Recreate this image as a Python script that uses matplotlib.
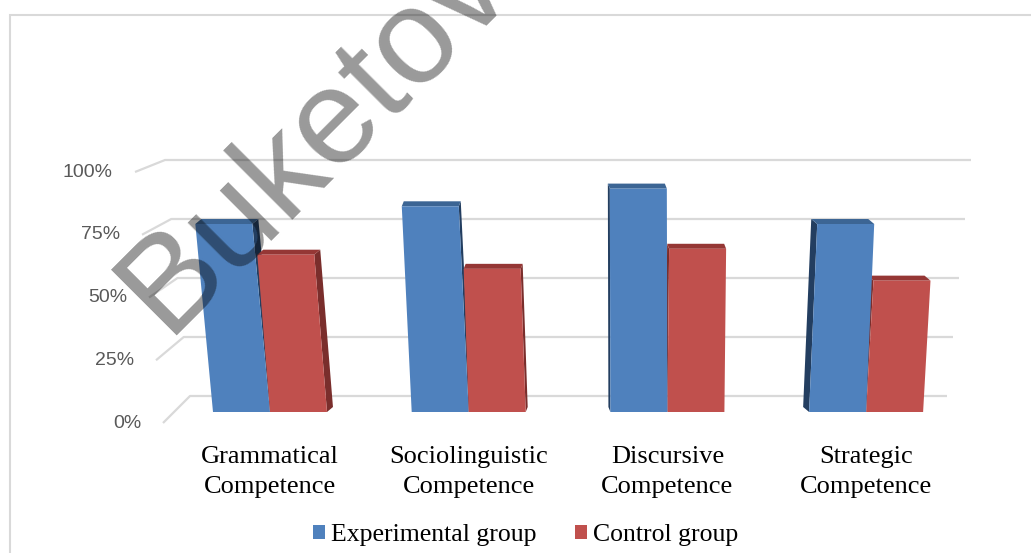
import numpy as np
import matplotlib.pyplot as plt
from matplotlib.patches import Polygon, Rectangle, Patch

categories = ["Grammatical\nCompetence", "Sociolinguistic\nCompetence",
              "Discursive\nCompetence", "Strategic\nCompetence"]
series = ["Experimental group", "Control group"]
experimental = [75, 82.5, 90, 75]
control = [62, 56, 64.5, 51]
ticks = [0, 25, 50, 75, 100]
tick_labels = ["0%", "25%", "50%", "75%", "100%"]

W, H = 1031, 553
PX = 2.36          # pixels per percent on the back wall
Y0 = 396           # pixel row of 0% on the back wall


def v(py):
    return (Y0 - py) / PX


fig = plt.figure(figsize=(W / 100, H / 100), dpi=100)
ax = fig.add_axes([0, 0, 1, 1])
ax.set_xlim(0, W)
ax.set_ylim(v(H), v(0))
ax.axis("off")

# frame
fig.patches.append(Rectangle((9.5 / W, -0.1), 1.2, 1 - 15 / H + 0.1, transform=fig.transFigure,
                             fill=False, edgecolor="#d9d9d9", lw=1.5))

# back wall gridlines with floor stubs
grid_c = "#d9d9d9"
for t, lab in zip(ticks, tick_labels):
    xl = 190 - 0.25 * t
    xr = 947 + 0.24 * t
    xs = 163 - 0.28 * t
    ys = t - (27 - 0.15 * t) / PX
    ax.plot([xs, xl, xr], [ys, t, t], color=grid_c, lw=1.6, zorder=1, solid_capstyle="butt")
    ax.text(xs - 22, ys, lab, ha="right", va="center", fontsize=14,
            family="Liberation Sans", color="#595959")

# pseudo-3D bars
colors = {"front": ["#4f81bd", "#c0504d"],
          "top": ["#3c6594", "#953735"],
          "side": ["#233e60", "#7a2e2c"]}
bw = 57
centers = 270 + 198.7 * np.arange(len(categories))
v0 = v(412)
dd = 5 / PX
xv = 568
for i, xc in enumerate(centers):
    vals = [experimental[i], control[i]]
    bx = 0.02 * (xv - xc)
    order = [0, 1] if xc < xv else [1, 0]
    for j in order:
        xl = xc - bw + j * bw
        xr = xl + bw
        vt = vals[j] - dd
        lean = 0.00023 * ((xl + xr) / 2 - 650) * (vt - v0) * PX
        front = [(xl, v0), (xr, v0), (xr + lean, vt), (xl + lean, vt)]
        top = [(xl + lean, vt), (xr + lean, vt), (xr + lean + bx, vt + dd), (xl + lean + bx, vt + dd)]
        xe = xr if bx > 0 else xl
        side = [(xe, v0), (xe + lean, vt), (xe + lean + bx, vt + dd), (xe + bx, v0 + dd)]
        z = 3 + (j if xc < xv else 1 - j)
        ax.add_patch(Polygon(side, closed=True, fc=colors["side"][j], ec="none", zorder=z))
        ax.add_patch(Polygon(top, closed=True, fc=colors["top"][j], ec="none", zorder=z))
        ax.add_patch(Polygon(front, closed=True, fc=colors["front"][j], ec="none", zorder=z))
    ax.text(xc, v(472), categories[i], ha="center", va="center", fontsize=19,
            family="Liberation Serif", color="black", linespacing=1.45)

handles = [Patch(fc=c, ec="none") for c in colors["front"]]
fig.legend(handles, series, loc="center", bbox_to_anchor=(526 / W, 1 - 535 / H), ncol=2,
           frameon=False, prop={"family": "Liberation Serif", "size": 18.5},
           handlelength=0.45, handleheight=0.45, handletextpad=0.25, columnspacing=1.5)

# watermark
fig.text(166 / W, 1 - 335 / H, "Buketov", rotation=45, rotation_mode="anchor",
         ha="left", va="baseline", fontsize=98, family="Liberation Sans",
         color="black", alpha=0.4, zorder=10)

fig.savefig("out.png", dpi=100)
